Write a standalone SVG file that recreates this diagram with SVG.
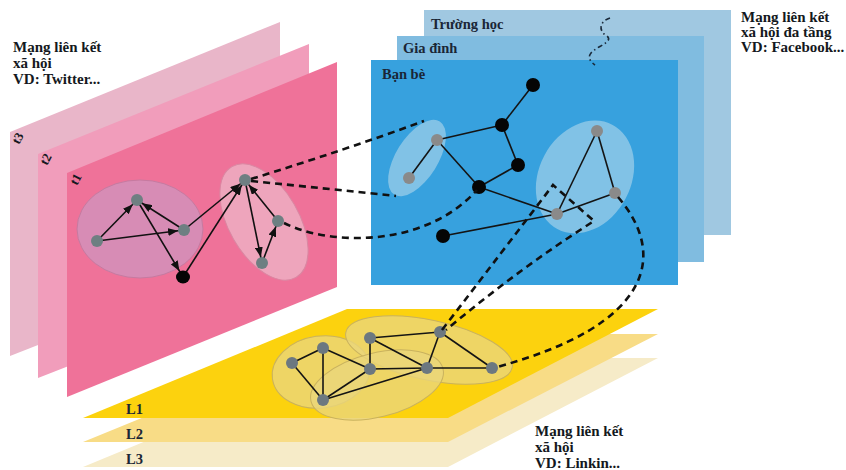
<svg xmlns="http://www.w3.org/2000/svg" width="846" height="470" viewBox="0 0 846 470">
  <style>
    .lbl { font-family: "Liberation Serif", "Times New Roman", serif; font-weight: bold; fill: #141820; }
    .big { font-size: 15px; }
    .plane-lbl { font-size: 14.5px; fill: #1a2636; }
    .tl { font-size: 13px; }
    .edge { stroke: #141414; stroke-width: 1.6; fill: none; }
    .arr { stroke: #111; stroke-width: 1.6; fill: none; marker-end: url(#arrow); }
    .arrD { stroke: #111; stroke-width: 1.6; fill: none; marker-end: url(#arrowBig); }
    .dash { stroke: #111; stroke-width: 2.6; fill: none; stroke-dasharray: 7 5; }
    .wavy { stroke: #1a2a3a; stroke-width: 1.6; fill: none; stroke-dasharray: 5 3 1.5 3; }
    .gp { fill: #6e7f82; }
    .gb { fill: #8a8a8a; }
    .gy { fill: #6c7880; }
    .blk { fill: #050505; }
    .yell { fill: #ead67c; fill-opacity: 0.8; stroke: #c9b25e; stroke-width: 1; }
  </style>
  <defs>
    <marker id="arrow" viewBox="0 0 10 8" markerUnits="userSpaceOnUse" markerWidth="10" markerHeight="8" refX="16" refY="4" orient="auto">
      <path d="M0,0 L10,4 L0,8 z" fill="#111"/>
    </marker>
    <marker id="arrowBig" viewBox="0 0 10 8" markerUnits="userSpaceOnUse" markerWidth="10" markerHeight="8" refX="17" refY="4" orient="auto">
      <path d="M0,0 L10,4 L0,8 z" fill="#111"/>
    </marker>
  </defs>

  <rect width="846" height="470" fill="#ffffff"/>

  <!-- time layers of the single-layer network -->
  <g id="plane-t3">
    <polygon points="10,132 280,22 280,250 10,356" fill="#e9b6c9"/>
    <text class="lbl tl" transform="translate(19,145) rotate(-62)">t3</text>
  </g>
  <g id="plane-t2">
    <polygon points="38,154 309,44 309,272 38,378" fill="#f19dbb"/>
    <text class="lbl tl" transform="translate(47,166) rotate(-62)">t2</text>
  </g>
  <g id="plane-t1">
    <polygon points="67,173 337,62 337,287 67,397" fill="#ef7299"/>
    <text class="lbl tl" transform="translate(77,186) rotate(-62)">t1</text>
  </g>

  <!-- relationship layers of the multilayer network -->
  <g id="plane-truong-hoc">
    <rect x="424" y="10" width="307" height="225" fill="#a0c8e1"/>
    <text class="lbl plane-lbl" x="431" y="29">Trường học</text>
  </g>
  <g id="plane-gia-dinh">
    <rect x="397" y="36" width="307" height="226" fill="#80bce0"/>
    <text class="lbl plane-lbl" x="403" y="53">Gia đình</text>
  </g>
  <g id="plane-ban-be">
    <rect x="371" y="60" width="307" height="225" fill="#37a1de"/>
    <text class="lbl plane-lbl" x="382" y="79">Bạn bè</text>
  </g>

  <!-- stacked layers L3..L1 -->
  <g id="plane-L3">
    <polygon points="347,358 658,358 448,467 83,467" fill="#f6ebc8"/>
    <text class="lbl plane-lbl" x="126" y="464">L3</text>
  </g>
  <g id="plane-L2">
    <polygon points="347,334 658,334 448,442 83,442" fill="#f8dc86"/>
    <text class="lbl plane-lbl" x="126" y="439">L2</text>
  </g>
  <g id="plane-L1">
    <polygon points="347,309 658,309 448,418 83,418" fill="#fcd20e"/>
    <text class="lbl plane-lbl" x="126" y="414">L1</text>
  </g>

  <!-- communities -->
  <g id="community-t1-left">
    <ellipse cx="140" cy="229" rx="63" ry="49" fill="#d78cb5" stroke="#c67aa0" stroke-width="1"/>
  </g>
  <g id="community-t1-right">
    <ellipse cx="264" cy="222" rx="64" ry="35" transform="rotate(60 264 222)" fill="#eea5bc" stroke="#da87a2" stroke-width="1"/>
  </g>
  <g id="community-ban-be-left">
    <ellipse cx="417" cy="158" rx="43" ry="21" transform="rotate(-58 417 158)" fill="#8ec8e8" fill-opacity="0.85"/>
  </g>
  <g id="community-ban-be-right">
    <ellipse cx="585" cy="177" rx="59" ry="46" transform="rotate(-62 585 177)" fill="#8ec8e8" fill-opacity="0.85"/>
  </g>
  <g id="community-L1">
    <ellipse class="yell" cx="321" cy="372" rx="49" ry="36" transform="rotate(-8 321 372)"/>
    <ellipse class="yell" cx="429" cy="350" rx="85" ry="30" transform="rotate(12 429 350)"/>
    <ellipse class="yell" cx="377" cy="385" rx="68" ry="32" transform="rotate(-14 377 385)"/>
  </g>

  <!-- edges inside each layer -->
  <g id="edges">
    <line class="arr" x1="97" y1="241" x2="137" y2="200"/>
    <line class="arr" x1="97" y1="241" x2="184" y2="230"/>
    <line class="arr" x1="184" y1="230" x2="137" y2="200"/>
    <line class="arrD" x1="137" y1="200" x2="183" y2="277"/>
    <line class="arr" x1="184" y1="230" x2="245" y2="180"/>
    <line class="arr" x1="183" y1="277" x2="245" y2="180"/>
    <line class="arr" x1="245" y1="180" x2="262" y2="263"/>
    <line class="arr" x1="278" y1="221" x2="245" y2="180"/>
    <line class="arr" x1="262" y1="263" x2="278" y2="221"/>

    <line class="edge" x1="409" y1="178" x2="437" y2="140"/>
    <line class="edge" x1="437" y1="140" x2="502" y2="125"/>
    <line class="edge" x1="502" y1="125" x2="533" y2="85"/>
    <line class="edge" x1="502" y1="125" x2="518" y2="165"/>
    <line class="edge" x1="518" y1="165" x2="479" y2="187"/>
    <line class="edge" x1="437" y1="140" x2="479" y2="187"/>
    <line class="edge" x1="479" y1="187" x2="557" y2="214"/>
    <line class="edge" x1="443" y1="236" x2="557" y2="214"/>
    <line class="edge" x1="557" y1="214" x2="615" y2="193"/>
    <line class="edge" x1="557" y1="214" x2="597" y2="131"/>
    <line class="edge" x1="597" y1="131" x2="615" y2="193"/>

    <line class="edge" x1="292" y1="363" x2="323" y2="348"/>
    <line class="edge" x1="292" y1="363" x2="323" y2="400"/>
    <line class="edge" x1="323" y1="348" x2="323" y2="400"/>
    <line class="edge" x1="323" y1="348" x2="370" y2="369"/>
    <line class="edge" x1="370" y1="338" x2="370" y2="369"/>
    <line class="edge" x1="370" y1="338" x2="440" y2="332"/>
    <line class="edge" x1="370" y1="338" x2="427" y2="368"/>
    <line class="edge" x1="370" y1="369" x2="427" y2="368"/>
    <line class="edge" x1="323" y1="400" x2="370" y2="369"/>
    <line class="edge" x1="323" y1="400" x2="427" y2="368"/>
    <line class="edge" x1="440" y1="332" x2="427" y2="368"/>
    <line class="edge" x1="440" y1="332" x2="492" y2="368"/>
    <line class="edge" x1="427" y1="368" x2="492" y2="368"/>
  </g>

  <!-- nodes -->
  <g id="node-t1-a"><circle class="gp" cx="97" cy="241" r="6"/></g>
  <g id="node-t1-b"><circle class="gp" cx="137" cy="200" r="6"/></g>
  <g id="node-t1-c"><circle class="gp" cx="184" cy="230" r="6"/></g>
  <g id="node-t1-d"><ellipse class="blk" cx="183" cy="277" rx="7" ry="6.5"/></g>
  <g id="node-t1-e"><circle class="gp" cx="245" cy="180" r="6"/></g>
  <g id="node-t1-f"><circle class="gp" cx="278" cy="221" r="6"/></g>
  <g id="node-t1-g"><circle class="gp" cx="262" cy="263" r="6"/></g>

  <g id="node-bb-p1"><circle class="gb" cx="437" cy="140" r="6"/></g>
  <g id="node-bb-p2"><circle class="gb" cx="409" cy="178" r="6"/></g>
  <g id="node-bb-q1"><circle class="blk" cx="533" cy="85" r="7"/></g>
  <g id="node-bb-q2"><circle class="blk" cx="502" cy="125" r="7"/></g>
  <g id="node-bb-q3"><circle class="blk" cx="518" cy="165" r="7"/></g>
  <g id="node-bb-q4"><circle class="blk" cx="479" cy="187" r="7"/></g>
  <g id="node-bb-q5"><circle class="blk" cx="443" cy="236" r="7"/></g>
  <g id="node-bb-r1"><circle class="gb" cx="597" cy="131" r="6"/></g>
  <g id="node-bb-r2"><circle class="gb" cx="615" cy="193" r="6"/></g>
  <g id="node-bb-r3"><circle class="gb" cx="557" cy="214" r="6"/></g>

  <g id="node-l1-1"><circle class="gy" cx="440" cy="332" r="6"/></g>
  <g id="node-l1-2"><circle class="gy" cx="492" cy="368" r="6"/></g>
  <g id="node-l1-3"><circle class="gy" cx="427" cy="368" r="6"/></g>
  <g id="node-l1-4"><circle class="gy" cx="370" cy="369" r="6"/></g>
  <g id="node-l1-5"><circle class="gy" cx="370" cy="338" r="6"/></g>
  <g id="node-l1-6"><circle class="gy" cx="323" cy="348" r="6"/></g>
  <g id="node-l1-7"><circle class="gy" cx="292" cy="363" r="6"/></g>
  <g id="node-l1-8"><circle class="gy" cx="323" cy="400" r="6"/></g>

  <!-- interlayer links -->
  <g id="connectors">
    <path class="dash" d="M251,179 Q345,150 424,121"/>
    <path class="dash" d="M251,181 Q330,189 396,196"/>
    <path class="dash" d="M284,223 C330,246 425,248 477,190"/>
    <path class="dash" d="M442,330 Q505,248 553,185 L594,221 Q520,268 446,330"/>
    <path class="dash" d="M618,197 C668,255 652,325 497,367"/>
    <path class="wavy" d="M610,18 C598,22 599,32 607,36 C614,42 597,46 591,53 C587,58 591,62 595,65"/>
  </g>

  <!-- captions -->
  <g id="caption-left">
    <text class="lbl big" x="13" y="52">Mạng liên kết</text>
    <text class="lbl big" x="13" y="68">xã hội</text>
    <text class="lbl big" x="13" y="84">VD: Twitter...</text>
  </g>
  <g id="caption-right">
    <text class="lbl big" x="741" y="22">Mạng liên kết</text>
    <text class="lbl big" x="741" y="37">xã hội đa tầng</text>
    <text class="lbl big" x="741" y="52">VD: Facebook...</text>
  </g>
  <g id="caption-bottom">
    <text class="lbl big" x="535" y="436">Mạng liên kết</text>
    <text class="lbl big" x="535" y="452">xã hội</text>
    <text class="lbl big" x="535" y="468">VD: Linkin...</text>
  </g>
</svg>
